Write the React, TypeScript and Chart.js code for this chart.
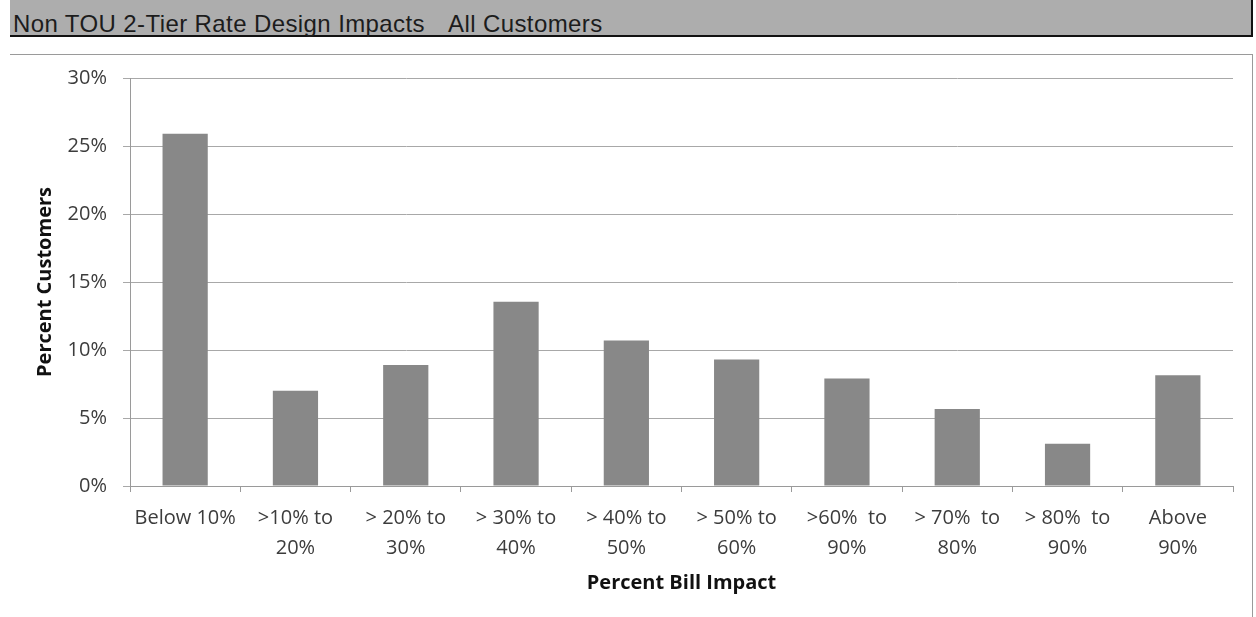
import React, { useEffect, useRef } from "react";
import { Chart, registerables } from "chart.js";

Chart.register(...registerables);

// Bill-impact buckets (two-line labels) and share of customers in each, in percent
const categories: string[][] = [
  ["Below 10%"],
  [">10% to", "20%"],
  ["> 20% to", "30%"],
  ["> 30% to", "40%"],
  ["> 40% to", "50%"],
  ["> 50% to", "60%"],
  [">60%  to", "90%"],
  ["> 70%  to", "80%"],
  ["> 80%  to", "90%"],
  ["Above", "90%"],
];
const percentCustomers: number[] = [25.9, 7.0, 8.9, 13.55, 10.7, 9.3, 7.9, 5.66, 3.1, 8.15];
const yTicks: number[] = [0, 5, 10, 15, 20, 25, 30];

const headerTitle = "Non TOU 2-Tier Rate Design Impacts";
const headerGroup = "All Customers";

const W = 1256;
const H = 617;

export default function App() {
  const canvasRef = useRef<HTMLCanvasElement | null>(null);

  useEffect(() => {
    const canvas = canvasRef.current;
    if (!canvas) return;
    const chart = new Chart(canvas, {
      type: "bar",
      data: {
        labels: categories,
        datasets: [
          {
            label: "Percent Customers",
            data: percentCustomers,
            backgroundColor: "#888888",
            borderWidth: 0,
            barPercentage: 0.41,
            categoryPercentage: 1.0,
          },
        ],
      },
      options: {
        responsive: false,
        animation: false,
        devicePixelRatio: 1,
        layout: { padding: { top: 78, right: 23, left: 0, bottom: 0 } },
        plugins: {
          legend: { display: false },
          tooltip: { enabled: false },
        },
        scales: {
          x: {
            type: "category",
            offset: true,
            afterFit: (scale: any) => {
              scale.height = 131;
            },
            grid: {
              display: true,
              offset: true,
              drawOnChartArea: false,
              drawTicks: true,
              tickLength: 6,
              color: "#9a9a9a",
            },
            border: { display: true, color: "#9a9a9a", width: 1 },
            ticks: {
              autoSkip: false,
              maxRotation: 0,
              minRotation: 0,
              padding: 11,
              color: "#3c3c3c",
              font: { family: "'Open Sans'", size: 20, lineHeight: 1.5 },
            },
            title: {
              display: true,
              text: "Percent Bill Impact",
              color: "#111111",
              font: { family: "'Open Sans'", size: 20, weight: "bold" },
              padding: { top: 0, bottom: 22 },
            },
          },
          y: {
            min: 0,
            max: 30,
            afterFit: (scale: any) => {
              scale.width = 130;
            },
            afterBuildTicks: (scale: any) => {
              scale.ticks = yTicks.map((v) => ({ value: v }));
            },
            grid: {
              display: true,
              drawTicks: true,
              tickLength: 7,
              color: "#a8a8a8",
            },
            border: { display: true, color: "#9a9a9a", width: 1 },
            ticks: {
              padding: 16,
              color: "#3c3c3c",
              font: { family: "'Open Sans'", size: 20 },
              callback: (v: any) => `${v}%`,
            },
            title: {
              display: true,
              text: "Percent Customers",
              color: "#111111",
              font: { family: "'Open Sans'", size: 20, weight: "bold" },
              padding: { top: 33, bottom: 0 },
            },
          },
        },
      },
    });
    return () => chart.destroy();
  }, []);

  return (
    <div
      style={{
        position: "absolute",
        left: 0,
        top: 0,
        width: W,
        height: H,
        background: "#ffffff",
        overflow: "hidden",
      }}
    >
      {/* grey header band */}
      <div
        style={{
          position: "absolute",
          left: 10,
          top: 0,
          width: 1241,
          height: 35,
          background: "#adadad",
          borderBottom: "2px solid #111",
          borderRight: "2px solid #111",
          fontFamily: "'Liberation Sans', Arial, sans-serif",
          fontSize: 24,
          color: "#1c1c1c",
          letterSpacing: 0.4,
          whiteSpace: "pre",
        }}
      >
        <span style={{ position: "absolute", left: 3, top: 12, lineHeight: "24px" }}>{headerTitle}</span>
        <span style={{ position: "absolute", left: 438, top: 12, lineHeight: "24px" }}>{headerGroup}</span>
      </div>
      {/* chart frame: top and right edges */}
      <div
        style={{
          position: "absolute",
          left: 10,
          top: 54,
          width: 1243,
          height: H - 54,
          borderTop: "1px solid #9a9a9a",
          borderRight: "1px solid #9a9a9a",
          boxSizing: "border-box",
        }}
      />
      <canvas
        ref={canvasRef}
        width={W}
        height={H}
        style={{ position: "absolute", left: 0, top: 0, width: W, height: H }}
      />
    </div>
  );
}
